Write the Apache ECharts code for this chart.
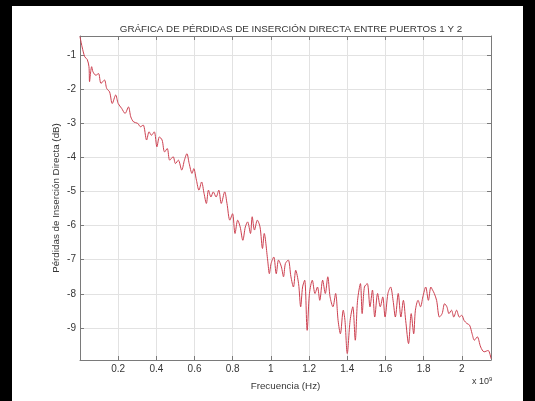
<!DOCTYPE html>
<html>
<head>
<meta charset="utf-8">
<script src="https://cdn.jsdelivr.net/npm/echarts@6/dist/echarts.min.js"></script>
<style>
  html, body { margin: 0; padding: 0; background: #000; }
  #chart { width: 535px; height: 401px; }
</style>
</head>
<body>
<div id="chart"></div>
<script>
// Insertion loss S21 between ports 1 and 2, frequency in GHz (x 10^9 Hz)
const freq = [0.000, 0.011, 0.025, 0.038, 0.047, 0.050, 0.056, 0.061, 0.068, 0.083,
  0.097, 0.110, 0.128, 0.140, 0.155, 0.169, 0.187, 0.200, 0.218, 0.236,
  0.254, 0.266, 0.281, 0.302, 0.317, 0.331, 0.349, 0.362, 0.374, 0.389,
  0.403, 0.416, 0.430, 0.443, 0.457, 0.470, 0.488, 0.500, 0.515, 0.533,
  0.547, 0.560, 0.572, 0.587, 0.596, 0.610, 0.623, 0.637, 0.650, 0.662,
  0.673, 0.686, 0.698, 0.713, 0.727, 0.740, 0.758, 0.770, 0.785, 0.799,
  0.812, 0.826, 0.839, 0.853, 0.866, 0.878, 0.893, 0.902, 0.914, 0.929,
  0.943, 0.956, 0.965, 0.983, 0.992, 1.001, 1.015, 1.028, 1.040, 1.055,
  1.066, 1.076, 1.091, 1.105, 1.118, 1.130, 1.145, 1.156, 1.166, 1.177,
  1.190, 1.202, 1.217, 1.231, 1.244, 1.256, 1.271, 1.285, 1.298, 1.310,
  1.325, 1.339, 1.352, 1.364, 1.379, 1.388, 1.400, 1.415, 1.429, 1.442,
  1.454, 1.469, 1.478, 1.490, 1.505, 1.519, 1.532, 1.544, 1.559, 1.573,
  1.586, 1.598, 1.613, 1.627, 1.640, 1.652, 1.667, 1.681, 1.694, 1.706,
  1.721, 1.735, 1.748, 1.757, 1.771, 1.784, 1.796, 1.811, 1.825, 1.838,
  1.847, 1.856, 1.868, 1.883, 1.897, 1.910, 1.922, 1.933, 1.946, 1.958,
  1.973, 1.987, 2.000, 2.012, 2.027, 2.041, 2.054, 2.066, 2.081, 2.099,
  2.117, 2.138, 2.153];

const lossDb = [-0.46, -0.76, -1.05, -1.13, -1.34, -1.78, -1.49, -1.34, -1.49, -1.59,
  -1.54, -1.83, -1.73, -1.98, -2.08, -2.42, -2.17, -2.42, -2.56, -2.71,
  -2.52, -2.81, -2.96, -3.00, -3.10, -3.05, -3.49, -3.25, -3.35, -3.25,
  -3.69, -3.40, -3.49, -3.84, -3.74, -4.08, -3.98, -4.18, -4.08, -4.37,
  -4.08, -3.89, -4.18, -4.47, -4.33, -4.67, -4.96, -4.72, -5.06, -5.35,
  -4.96, -5.16, -5.01, -5.16, -4.96, -5.35, -5.01, -5.35, -5.84, -5.65,
  -6.23, -5.84, -6.04, -6.43, -6.04, -5.89, -6.23, -5.74, -6.13, -5.84,
  -6.04, -6.67, -6.23, -7.01, -7.41, -7.11, -6.92, -7.41, -7.01, -7.21,
  -7.50, -7.11, -7.01, -7.50, -7.80, -7.31, -7.70, -8.38, -7.80, -7.60,
  -9.07, -7.99, -7.60, -7.99, -7.80, -8.19, -7.60, -7.99, -7.50, -8.09,
  -8.38, -7.99, -8.78, -9.17, -8.48, -8.78, -9.75, -8.78, -8.38, -9.36,
  -8.19, -7.70, -8.58, -7.80, -7.70, -8.38, -7.89, -8.68, -7.99, -8.38,
  -8.09, -8.68, -7.99, -7.80, -8.19, -8.68, -7.99, -8.68, -8.19, -8.78,
  -9.46, -8.58, -9.17, -8.48, -8.19, -8.38, -8.09, -7.80, -8.19, -7.80,
  -7.89, -7.99, -8.19, -8.68, -8.58, -8.29, -8.38, -8.58, -8.48, -8.68,
  -8.48, -8.68, -8.63, -8.78, -8.87, -8.92, -9.17, -9.36, -9.26, -9.56,
  -9.70, -9.66, -9.90];

const xTicks = [0.2, 0.4, 0.6, 0.8, 1, 1.2, 1.4, 1.6, 1.8, 2];
const yTicks = [-9, -8, -7, -6, -5, -4, -3, -2, -1];
const xRange = [0, 2.153];
const yRange = [-9.94, -0.44];

const titleText = 'GRÁFICA DE PÉRDIDAS DE INSERCIÓN DIRECTA ENTRE PUERTOS 1 Y 2';
const xName = 'Frecuencia (Hz)';
const yName = 'Pérdidas de Inserción Directa (dB)';

const FONT = 'Liberation Sans, Arial, sans-serif';
const AXIS_COLOR = '#7a7a7a';
const GRID_COLOR = '#e2e2e2';
const TEXT_COLOR = '#363636';

const chart = echarts.init(document.getElementById('chart'), null, { renderer: 'canvas' });

// One side of the boxed frame; only bottom/left carry labels and grid lines
function boxAxis(isX, pos, show) {
  const ticks = isX ? xTicks : yTicks;
  const range = isX ? xRange : yRange;
  return {
    type: 'value',
    position: pos,
    min: range[0],
    max: range[1],
    nameMoveOverlap: false,
    axisLine: { show: true, onZero: false, lineStyle: { color: AXIS_COLOR, width: 1 } },
    axisTick: { show: true, inside: true, length: 4, customValues: ticks,
      lineStyle: { color: AXIS_COLOR } },
    axisLabel: show ? {
      show: true, customValues: ticks, color: TEXT_COLOR, fontFamily: FONT, fontSize: 10,
      margin: 4
    } : { show: false },
    splitLine: show ? { show: true, lineStyle: { color: GRID_COLOR, width: 1 } } : { show: false }
  };
}

const xMain = boxAxis(true, 'bottom', true);
xMain.name = xName;
xMain.nameLocation = 'middle';
xMain.nameGap = 21;
xMain.nameTextStyle = { color: TEXT_COLOR, fontFamily: FONT, fontSize: 9.8 };

const yMain = boxAxis(false, 'left', true);
yMain.name = yName;
yMain.nameLocation = 'middle';
yMain.nameGap = 19;
yMain.nameRotate = 90;
yMain.nameTextStyle = { color: TEXT_COLOR, fontFamily: FONT, fontSize: 9.8 };

chart.setOption({
  backgroundColor: '#000',
  animation: false,
  title: {
    text: titleText,
    left: 286,
    textAlign: 'center',
    top: 19,
    textStyle: { color: TEXT_COLOR, fontFamily: FONT, fontSize: 9.8, fontWeight: 'normal' }
  },
  graphic: [
    { type: 'rect', z: -10, shape: { x: 12, y: 6, width: 511, height: 395 },
      style: { fill: '#fff' }, silent: true },
    { type: 'text', left: 472, top: 376, z: 10,
      style: { text: '{a|x 10}{b|9}', rich: {
        a: { fontFamily: FONT, fontSize: 9, fill: TEXT_COLOR },
        b: { fontFamily: FONT, fontSize: 6, fill: TEXT_COLOR, verticalAlign: 'top', padding: [0, 0, 6, 0] }
      } } }
  ],
  grid: { left: 80, top: 36, width: 411, height: 324, containLabel: false },
  xAxis: [xMain, boxAxis(true, 'top', false)],
  yAxis: [yMain, boxAxis(false, 'right', false)],
  series: [{
    type: 'line',
    data: freq.map((f, i) => [f, lossDb[i]]),
    showSymbol: false,
    smooth: 0.3,
    clip: true,
    lineStyle: { color: '#cc4050', width: 1 }
  }]
});
</script>
</body>
</html>
